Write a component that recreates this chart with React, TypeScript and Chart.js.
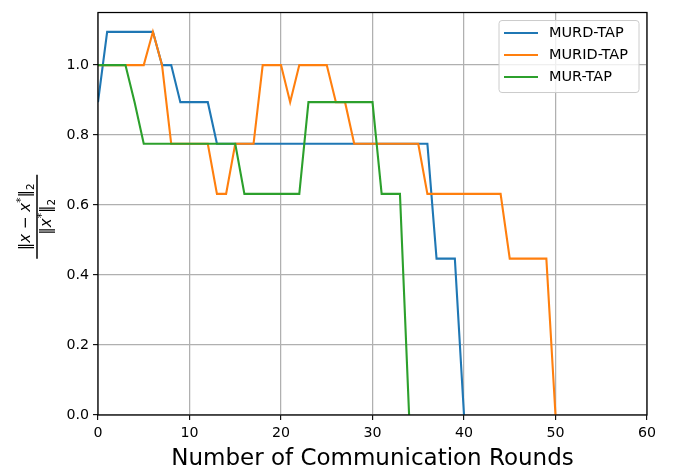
import React, { useEffect, useRef } from 'react';
import { Chart, registerables } from 'chart.js';

Chart.register(...registerables);

// Series values, one per communication round starting at round 0
const murdTap = [
  0.894, 1.095, 1.095, 1.095, 1.095, 1.095, 1.095, 1.0, 1.0, 0.894,
  0.894, 0.894, 0.894, 0.775, 0.775, 0.775, 0.775, 0.775, 0.775, 0.775,
  0.775, 0.775, 0.775, 0.775, 0.775, 0.775, 0.775, 0.775, 0.775, 0.775,
  0.775, 0.775, 0.775, 0.775, 0.775, 0.775, 0.775, 0.447, 0.447, 0.447,
  0,
];
const muridTap = [
  1.0, 1.0, 1.0, 1.0, 1.0, 1.0, 1.095, 1.0, 0.775, 0.775,
  0.775, 0.775, 0.775, 0.632, 0.632, 0.775, 0.775, 0.775, 1.0, 1.0,
  1.0, 0.894, 1.0, 1.0, 1.0, 1.0, 0.894, 0.894, 0.775, 0.775,
  0.775, 0.775, 0.775, 0.775, 0.775, 0.775, 0.632, 0.632, 0.632, 0.632,
  0.632, 0.632, 0.632, 0.632, 0.632, 0.447, 0.447, 0.447, 0.447, 0.447,
  0,
];
const murTap = [
  1.0, 1.0, 1.0, 1.0, 0.894, 0.775, 0.775, 0.775, 0.775, 0.775,
  0.775, 0.775, 0.775, 0.775, 0.775, 0.775, 0.632, 0.632, 0.632, 0.632,
  0.632, 0.632, 0.632, 0.894, 0.894, 0.894, 0.894, 0.894, 0.894, 0.894,
  0.894, 0.632, 0.632, 0.632, 0,
];

const seriesNames = ['MURD-TAP', 'MURID-TAP', 'MUR-TAP'];
const seriesValues = [murdTap, muridTap, murTap];
const seriesColors = ['#1f77b4', '#ff7f0e', '#2ca02c'];

const xTicks = [0, 10, 20, 30, 40, 50, 60];
const yTicks = [0, 0.2, 0.4, 0.6, 0.8, 1.0];
const xMin = 0;
const xMax = 60;
const yMin = 0;
const yMax = 1.1502;
const xTitle = 'Number of Communication Rounds';

const FONT = '"DejaVu Sans", "Liberation Sans", sans-serif';

type Run = { t: string; font: string; dy?: number };

function drawRuns(ctx: CanvasRenderingContext2D, runs: Run[], cx: number, baseline: number) {
  let total = 0;
  const widths = runs.map((r) => {
    ctx.font = r.font;
    const w = ctx.measureText(r.t).width;
    total += w;
    return w;
  });
  let x = cx - total / 2;
  runs.forEach((r, i) => {
    ctx.font = r.font;
    ctx.fillText(r.t, x, baseline + (r.dy || 0));
    x += widths[i];
  });
}

const customPlugin = {
  id: 'mplDecor',
  afterDraw(chart: any) {
    const ctx: CanvasRenderingContext2D = chart.ctx;
    const a = chart.chartArea;
    ctx.save();

    // spines
    ctx.strokeStyle = '#000';
    ctx.lineWidth = 1.25;
    ctx.strokeRect(a.left, a.top, a.right - a.left, a.bottom - a.top);

    // legend
    const bw = 140;
    const bh = 72;
    const bx = a.right - 8 - bw;
    const by = a.top + 8;
    ctx.beginPath();
    const r = 3;
    ctx.moveTo(bx + r, by);
    ctx.lineTo(bx + bw - r, by);
    ctx.quadraticCurveTo(bx + bw, by, bx + bw, by + r);
    ctx.lineTo(bx + bw, by + bh - r);
    ctx.quadraticCurveTo(bx + bw, by + bh, bx + bw - r, by + bh);
    ctx.lineTo(bx + r, by + bh);
    ctx.quadraticCurveTo(bx, by + bh, bx, by + bh - r);
    ctx.lineTo(bx, by + r);
    ctx.quadraticCurveTo(bx, by, bx + r, by);
    ctx.closePath();
    ctx.fillStyle = 'rgba(255,255,255,0.8)';
    ctx.fill();
    ctx.strokeStyle = '#cccccc';
    ctx.lineWidth = 1;
    ctx.stroke();

    ctx.font = `14.5px ${FONT}`;
    ctx.textBaseline = 'middle';
    ctx.textAlign = 'left';
    seriesNames.forEach((name, i) => {
      const yy = by + 12.5 + i * 22;
      ctx.strokeStyle = seriesColors[i];
      ctx.lineWidth = 2.1;
      ctx.beginPath();
      ctx.moveTo(bx + 5, yy);
      ctx.lineTo(bx + 39, yy);
      ctx.stroke();
      ctx.fillStyle = '#000';
      ctx.fillText(name, bx + 50, yy + 0.5);
    });

    // x title
    ctx.font = `23px ${FONT}`;
    ctx.textAlign = 'center';
    ctx.textBaseline = 'alphabetic';
    ctx.fillStyle = '#000';
    ctx.fillText(xTitle, (a.left + a.right) / 2, 465);

    // y title (fraction), rotated
    const cy = (a.top + a.bottom) / 2 + 3;
    ctx.translate(37, cy);
    ctx.rotate(-Math.PI / 2);
    ctx.textAlign = 'left';
    ctx.textBaseline = 'alphabetic';
    const f = `15px ${FONT}`;
    const fi = `italic 15px ${FONT}`;
    const fs = `10.5px ${FONT}`;
    drawRuns(
      ctx,
      [
        { t: '\u2016', font: f },
        { t: 'x', font: fi },
        { t: ' \u2212 ', font: f },
        { t: 'x', font: fi },
        { t: '*', font: fs, dy: -6 },
        { t: '\u2016', font: f },
        { t: '2', font: fs, dy: 4 },
      ],
      0,
      -7
    );
    ctx.strokeStyle = '#000';
    ctx.lineWidth = 1.5;
    ctx.beginPath();
    ctx.moveTo(-42, 0);
    ctx.lineTo(42, 0);
    ctx.stroke();
    drawRuns(
      ctx,
      [
        { t: '\u2016', font: f },
        { t: 'x', font: fi },
        { t: '*', font: fs, dy: -6 },
        { t: '\u2016', font: f },
        { t: '2', font: fs, dy: 4 },
      ],
      0,
      14
    );

    ctx.restore();
  },
};

export default function App() {
  const ref = useRef<HTMLCanvasElement | null>(null);

  useEffect(() => {
    const canvas = ref.current;
    if (!canvas) return;
    const chart = new Chart(canvas, {
      type: 'line',
      data: {
        datasets: seriesValues.map((vals, i) => ({
          label: seriesNames[i],
          data: vals.map((y, x) => ({ x, y })),
          borderColor: seriesColors[i],
          backgroundColor: seriesColors[i],
          borderWidth: 2.1,
          pointRadius: 0,
          pointHoverRadius: 0,
          tension: 0,
          fill: false,
          order: 3 - i,
        })),
      },
      options: {
        responsive: false,
        animation: false,
        devicePixelRatio: 1,
        layout: { padding: { left: 0, right: 27, top: 6, bottom: 0 } },
        plugins: {
          legend: { display: false },
          tooltip: { enabled: false },
        },
        scales: {
          x: {
            type: 'linear',
            min: xMin,
            max: xMax,
            afterBuildTicks: (s: any) => {
              s.ticks = xTicks.map((v) => ({ value: v }));
            },
            afterFit: (s: any) => {
              s.height = 57;
            },
            grid: {
              color: '#b0b0b0',
              lineWidth: 1.25,
              tickColor: '#000',
              tickLength: 5,
              tickWidth: 1.1,
            },
            border: { display: false },
            ticks: {
              color: '#000',
              font: { family: FONT, size: 14.2 },
              padding: 5,
              maxRotation: 0,
              autoSkip: false,
              callback: (v: any) => String(v),
            },
          },
          y: {
            type: 'linear',
            min: yMin,
            max: yMax,
            afterBuildTicks: (s: any) => {
              s.ticks = yTicks.map((v) => ({ value: v }));
            },
            afterFit: (s: any) => {
              s.width = 98;
            },
            grid: {
              color: '#b0b0b0',
              lineWidth: 1.25,
              tickColor: '#000',
              tickLength: 5,
              tickWidth: 1.1,
            },
            border: { display: false },
            ticks: {
              color: '#000',
              font: { family: FONT, size: 14.2 },
              padding: 4,
              autoSkip: false,
              callback: (v: any) => Number(v).toFixed(1),
            },
          },
        },
      },
      plugins: [customPlugin],
    } as any);
    return () => chart.destroy();
  }, []);

  return (
    <div style={{ position: 'absolute', left: 0, top: 0, width: 674, height: 472, background: '#fff' }}>
      <canvas ref={ref} width={674} height={472} style={{ width: 674, height: 472, display: 'block' }} />
    </div>
  );
}
